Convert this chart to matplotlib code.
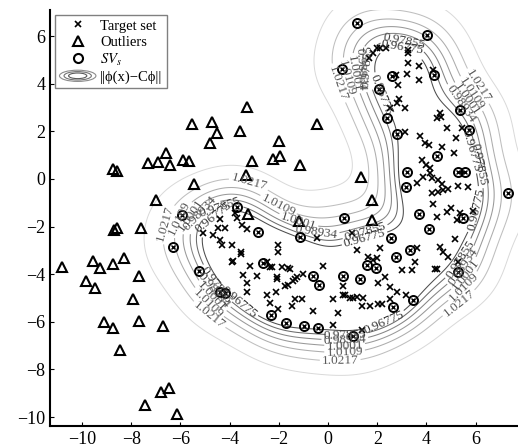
import numpy as np
import matplotlib
matplotlib.use("Agg")
import matplotlib.pyplot as plt
from matplotlib.lines import Line2D
from matplotlib.patches import Ellipse
from matplotlib.legend_handler import HandlerBase

plt.rcParams['font.family'] = ['Liberation Serif', 'DejaVu Serif']
plt.rcParams['mathtext.fontset'] = 'stix'

# ---------------- DATA ----------------
# target set, x / y
target_x = [1.67, 1.83, 1.99, 2.11, 2.36, 3.25, 3.25, 3.25, 3.70, 3.21, 3.70, 2.85, 2.76, 4.27,
            2.89, 2.80, 2.52, 3.13, 4.55, 4.43, 4.59, 4.84, 5.20, 5.45, 3.74, 3.13, 3.94, 4.11, 4.63,
            3.82, 3.98, 4.15, 4.15, 4.23, 3.86, 3.62, 4.47, 4.63, 4.23, 4.47, 4.67, 4.88, 5.28, 5.69,
            5.12, 4.27, 4.43, 4.84, 5.00, 5.37, 5.24, 5.89, 0.98, 1.18, 2.11, 1.63, 1.83, 1.99, 3.62,
            4.55, 4.67, 4.88, 5.16, 5.28, 3.01, 3.41, 4.43, 2.32, 3.54, 4.35, 0.61, 0.69, 0.89, 1.18,
            1.42, 1.71, 2.03, 2.52, 2.80, 3.17, 1.38, 2.03, 2.20, 2.52, 0.61, 1.02, 1.38,
            -4.39, -4.47, -4.19, -5.08, -4.67, -3.50, -3.29, -4.39, -4.31, -3.90, -2.03, -2.03, -3.54,
            -0.45, -3.90, -3.17, -2.36, -1.87, -1.63, -0.20, -3.46, -2.89, -2.07, -1.26, -3.78, -3.70,
            -3.86, -3.29, -3.29, -3.54,
            -2.48, -2.28, -1.54, -2.07, -1.75, -1.34, -1.02, -2.48, -2.36, -2.03, -1.46, -1.34, -1.06,
            -0.61, 0.20, 0.41, 0.20, -1.63, -1.42, -2.11]
target_y = [5.08, 5.29, 5.50, 5.50, 5.50, 5.42, 5.29, 4.87, 4.75, 4.41, 4.16, 3.95, 4.37, 4.58,
            3.36, 3.19, 2.98, 2.98, 2.77, 2.56, 2.61, 2.14, 1.72, 2.14, 1.81, 1.97, 1.51, 1.43, 1.34,
            0.80, 0.59, 0.46, 0.25, 0.04, 0.08, -0.17, -0.04, -0.21, -0.59, -0.55, -0.46, -0.42, -0.29,
            -0.34, 1.09, -1.05, -1.60, -1.39, -1.22, -1.43, -1.72, -1.34, -2.27, -2.98, -2.90, -3.28,
            -3.40, -3.32, -2.90, -2.86, -3.07, -3.28, -2.52, -3.49, -3.84, -3.84, -3.78, -4.12, -3.49,
            -3.78, -4.50, -4.87, -5.00, -4.96, -5.00, -5.34, -5.25, -4.54, -4.75, -4.87, -6.34, -4.37,
            -5.25, -5.04, -4.87, -5.00, -5.34,
            -1.68, -2.06, -2.06, -2.27, -2.35, -1.93, -2.10, -2.56, -2.77, -2.77, -2.77, -3.07, -3.07,
            -2.48, -3.49, -3.66, -3.70, -3.70, -3.74, -3.66, -4.03, -4.07, -4.12, -4.12, -1.43, -1.64,
            -3.45, -4.37, -4.75, -3.15,
            -3.49, -3.70, -3.78, -4.20, -4.50, -4.20, -3.99, -4.88, -5.21, -5.46, -5.34, -5.04, -5.04,
            -5.55, -5.04, -5.63, -6.13, -4.45, -4.29, -4.75]

# support vectors (they are also in the target set)
sv_x = [1.18, 4.02, 0.57, 2.60, 4.31, 2.07, 2.40, 5.37, 5.73, 2.80, 4.43, 5.28, 5.57, 3.21,
        3.17, 7.32, 3.70, 4.11, 5.49, 0.65, 2.56, 3.33, 2.76, 1.59, 1.95, 5.28, 1.30, 0.61,
        -3.70, -5.93, -2.85, -1.14, -6.30, -5.24, -2.64, -0.61, -0.37, -4.39, -4.19, -2.32,
        -1.71, -0.98, -0.41, 3.46, 2.64, 1.02]
sv_y = [6.55, 6.05, 4.62, 4.33, 4.37, 3.78, 2.56, 2.90, 2.06, 1.89, 0.97, 0.29, 0.29, 0.29,
        -0.34, -0.59, -1.47, -2.10, -1.64, -1.64, -2.48, -2.98, -3.28, -3.61, -3.74, -3.91, -4.20, -4.08,
        -1.18, -1.51, -2.23, -2.44, -2.86, -3.87, -3.53, -4.08, -4.45, -4.75, -4.79, -5.71,
        -6.05, -6.18, -6.26, -5.08, -5.38, -6.60]

# outliers
out_x = [-3.29, -5.53, -4.72, -4.51, -4.80, -3.58, -6.58, -7.32, -6.91, -6.42, -5.89, -5.65,
         -8.74, -8.58, -3.33, -5.45, -6.99, -3.25, -3.09, -0.45, -1.99, -2.24, -1.95, -1.14,
         1.34, 1.79, -1.18, 1.79, -10.81, -9.55, -9.27, -8.74, -8.29, -9.84, -9.47, -7.68,
         -7.93, -7.68, -9.11, -8.74, -6.71, -8.46, -6.79, -6.46, -7.44, -6.14, -8.58, -7.60, -8.70]
out_y = [3.03, 2.31, 2.39, 1.93, 1.51, 2.02, 1.09, 0.67, 0.71, 0.59, 0.80, 0.76,
         0.42, 0.34, 0.17, -0.21, -0.88, -1.47, 0.76, 2.31, 1.60, 0.84, 0.97, 0.59,
         0.08, -0.88, -1.76, -1.72, -3.70, -3.45, -3.74, -3.57, -3.32, -4.29, -4.58, -4.08,
         -5.04, -5.97, -6.01, -6.26, -6.18, -7.18, -8.95, -8.78, -9.50, -9.87, -2.06, -2.06, -2.14]

levels = [0.96775, 0.97855, 0.98934, 1.0001, 1.0109, 1.0217]
extra_level = 1.0325   # faint, unlabeled

# ---------------- DISTANCE FIELD ----------------
pts = np.column_stack([target_x + sv_x, target_y + sv_y])
sigma = 1.1
W = 0.08

xx, yy = np.meshgrid(np.linspace(-11.3, 7.8, 320), np.linspace(-10.4, 7.4, 300))

def kern(px, py):
    d2 = (px[..., None] - pts[:, 0]) ** 2 + (py[..., None] - pts[:, 1]) ** 2
    return np.exp(-d2 / (2 * sigma ** 2)).sum(axis=-1)

g_grid = kern(xx, yy)
g_sv = kern(np.array(sv_x), np.array(sv_y))
# scale so the support vectors sit on the first level
k = (1 + W - levels[0] ** 2) / (2 * np.quantile(g_sv, 0.42))
dist = np.sqrt(np.clip(1 + W - 2 * k * g_grid, 0, None))

# ---------------- PLOT ----------------
fig = plt.figure(figsize=(5.18, 4.48), dpi=100)
ax = fig.add_axes([0.0965, 0.049, 0.9035, 0.929])

line_cols = ['0.3', '0.42', '0.52', '0.6', '0.68', '0.75']
text_cols = ['0.2', '0.25', '0.3', '0.3', '0.35', '0.35']

# where the labels sit (groups of labels, as in the picture)
spots = {
    0.96775: [(3.1, 6.1), (1.7, 3.3), (5.8, 1.2), (1.3, -1.8), (-4.9, -1.3), (-3.5, -5.0),
              (2.2, -5.9), (6.4, -1.4)],
    0.97855: [(3.3, 6.9), (7.0, 0.8), (-0.2, 4.7), (1.2, -1.0), (-4.5, -0.8), (-5.0, -4.8),
              (0.7, -7.1), (6.0, -3.8)],
    0.98934: [(5.8, 3.5), (-0.4, 4.4), (-0.2, -0.8), (-6.0, -0.6), (-5.1, -5.1), (0.7, -7.5),
              (6.2, -4.2)],
    1.0001: [(6.2, 3.8), (-0.7, 4.0), (-0.85, -0.6), (-6.8, -0.6), (-5.3, -5.5), (0.7, -7.8),
             (6.3, -4.6)],
    1.0109: [(6.5, 4.1), (-1.0, 3.7), (-1.6, -0.3), (-7.4, -0.9), (-5.4, -5.8), (0.7, -8.2),
             (6.2, -5.3)],
    1.0217: [(6.8, 4.4), (-1.3, 3.3), (-3.0, 0.6), (-8.0, -1.5), (-5.5, -6.6), (0.5, -8.8),
             (5.8, -5.9)],
}
for lev, lc, tc in zip(levels, line_cols, text_cols):
    cs = ax.contour(xx, yy, dist, levels=[lev], colors=[lc], linewidths=0.75)
    ax.clabel(cs, manual=spots[lev], fmt={lev: f'{lev:g}'}, fontsize=9.5,
              inline=True, inline_spacing=2, colors=tc)
ax.contour(xx, yy, dist, levels=[extra_level], colors=['0.85'], linewidths=0.7)

ax.plot(target_x, target_y, 'x', color='black', ms=3.8, mew=1.2, ls='none')
ax.plot(sv_x, sv_y, 'x', color='black', ms=3.2, mew=1.0, ls='none')
ax.plot(sv_x, sv_y, 'o', mfc='none', mec='black', ms=6.5, mew=1.4, ls='none')
ax.plot(out_x, out_y, '^', mfc='none', mec='black', ms=7.5, mew=1.5, ls='none')

ax.set_xlim(-11.3, 7.72)
ax.set_ylim(-10.38, 7.1)
ax.set_xticks([-10, -8, -6, -4, -2, 0, 2, 4, 6])
ax.set_yticks([-10, -8, -6, -4, -2, 0, 2, 4, 6])
ax.tick_params(direction='in', labelsize=13, length=3, width=0.8)
for side in ['top', 'right']:
    ax.spines[side].set_visible(False)
ax.spines['left'].set_linewidth(1.5)
ax.spines['bottom'].set_linewidth(1.5)


class HandlerRings(HandlerBase):
    def create_artists(self, legend, orig_handle, xdescent, ydescent, width, height, fontsize, trans):
        cx = 0.5 * width - xdescent
        cy = 0.5 * height - ydescent
        arts = []
        for f, c in zip([1.0, 0.75, 0.5], ['0.55', '0.45', '0.35']):
            arts.append(Ellipse((cx, cy), width * f, height * f * 1.1, fill=False,
                                edgecolor=c, lw=0.8, transform=trans))
        return arts


rings = Ellipse((0, 0), 1, 1)
handles = [Line2D([], [], marker='x', color='black', ms=3.8, mew=1.2, ls='none'),
           Line2D([], [], marker='^', mfc='none', mec='black', ms=7, mew=1.5, ls='none'),
           Line2D([], [], marker='o', mfc='none', mec='black', ms=6.5, mew=1.5, ls='none'),
           rings]
labels = ['Target set', 'Outliers', r'$SV_s$', '||ϕ(x)−Cϕ||']
leg = ax.legend(handles, labels, loc='upper left', fontsize=10.5, handlelength=2.5,
                handletextpad=0.3, labelspacing=0.2, borderaxespad=0.35, borderpad=0.3,
                fancybox=False, edgecolor='0.5', framealpha=1,
                handler_map={rings: HandlerRings()})
leg.get_frame().set_linewidth(1.0)

fig.savefig('out.png', dpi=100)
